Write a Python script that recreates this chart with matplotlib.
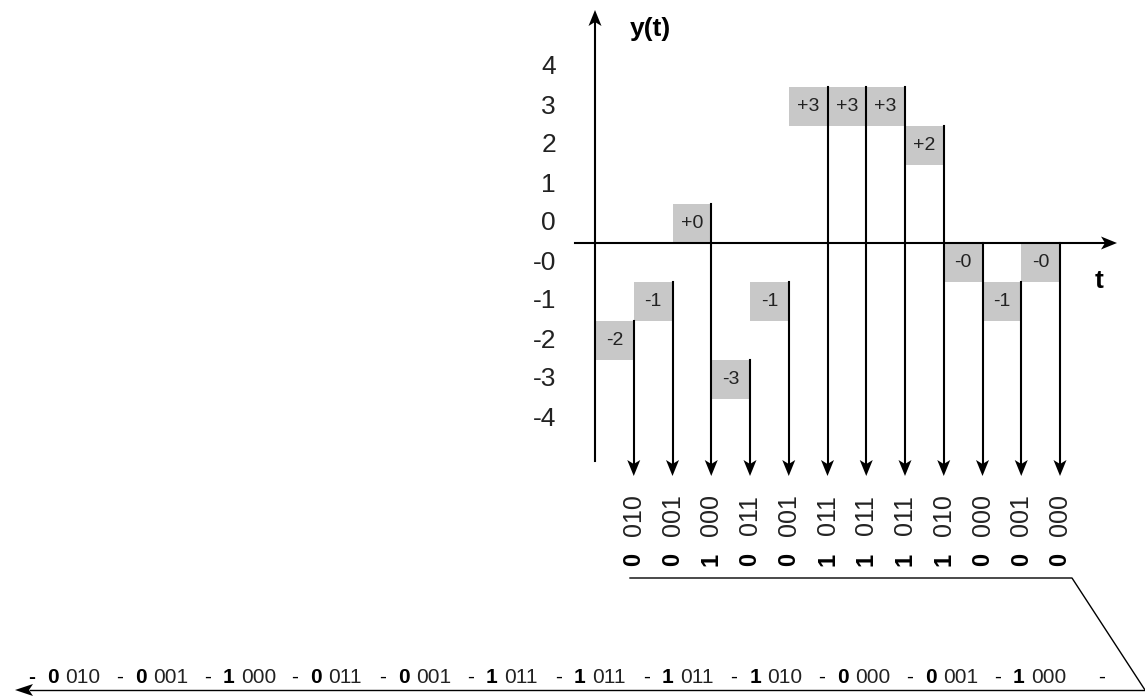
import matplotlib.pyplot as plt
from matplotlib.patches import Rectangle

plt.rcParams['font.family'] = ['Liberation Sans', 'DejaVu Sans']

# quantised samples: sign and magnitude of each level
signs = ['-', '-', '+', '-', '-', '+', '+', '+', '+', '-', '-', '-']
mags = [2, 1, 0, 3, 1, 3, 3, 3, 2, 0, 1, 0]

# code words under the arrows: sign bit + 3 magnitude bits
sign_bits = ['0', '0', '1', '0', '0', '1', '1', '1', '1', '0', '0', '0']
mag_bits = ['010', '001', '000', '011', '001', '011', '011', '011', '010',
            '000', '001', '000']

# serial stream as printed along the bottom arrow
stream_sign = ['0', '0', '1', '0', '0', '1', '1', '1', '1', '0', '0', '1']
stream_mag = ['010', '001', '000', '011', '001', '011', '011', '011', '010',
              '000', '001', '000']

ytick_labels = ['4', '3', '2', '1', '0', '-0', '-1', '-2', '-3', '-4']

# pixel geometry of the picture (origin of the y(t) axes, size of one step)
W, H = 1145, 697
X0, Y0 = 595, 243
PX_X, PX_Y = 38.75, 39.0
BOX_COLOR = '#c8c8c8'


def to_data(px, py):
    return (px - X0) / PX_X, (Y0 - py) / PX_Y


def to_px(x, y):
    return X0 + x * PX_X, Y0 - y * PX_Y


def head(ax, x, y, dx, dy, length=16, half=6.5, notch=4):
    # arrow head with its tip at data (x, y); (dx, dy) direction in pixels
    tx, ty = to_px(x, y)
    nx, ny = -dy, dx
    pts = [(tx, ty),
           (tx - dx * length + nx * half, ty - dy * length + ny * half),
           (tx - dx * (length - notch), ty - dy * (length - notch)),
           (tx - dx * length - nx * half, ty - dy * length - ny * half)]
    xs, ys = zip(*[to_data(*p) for p in pts])
    ax.fill(xs, ys, color='black', lw=0, zorder=4)


fig = plt.figure(figsize=(W / 100, H / 100), dpi=100)
ax = fig.add_axes([0, 0, 1, 1])
x_left, y_bottom = to_data(0, H)
x_right, y_top = to_data(W, 0)
ax.set_xlim(x_left, x_right)
ax.set_ylim(y_bottom, y_top)
ax.axis('off')

# axes of y(t)
ax.plot(*zip(to_data(595, 461), to_data(595, 22)), color='black', lw=1.5)
head(ax, *to_data(595, 10), 0, -1)
ax.plot(*zip(to_data(575, 243), to_data(1105, 243)), color='black', lw=1.5)
head(ax, *to_data(1117, 243), 1, 0)
ax.text(*to_data(650, 29), 'y(t)', fontsize=19, fontweight='bold',
        ha='center', va='center')
ax.text(*to_data(1099, 281), 't', fontsize=19, fontweight='bold',
        ha='center', va='center')

# level labels
for lab in ytick_labels:
    v = int(lab)
    ypos = v + 0.5 if not lab.startswith('-') else -(abs(v) + 0.5)
    ax.text(to_data(556, 0)[0], ypos, lab, fontsize=19, color='#222222',
            ha='right', va='center')

# samples: grey box with the level, and a line down to the code word
arrow_tip_y = to_data(0, 476)[1]
line_end_y = to_data(0, 466)[1]
for i, (s, m) in enumerate(zip(signs, mags), start=1):
    if s == '+':
        lo, top = m, m + 1
    else:
        lo, top = -(m + 1), -m
    ax.add_patch(Rectangle((i - 1, lo), 1, 1, facecolor=BOX_COLOR,
                           edgecolor='none', zorder=1))
    ax.text(i - 0.5, lo + 0.5, s + str(m), fontsize=14, color='#222222',
            ha='center', va='center', zorder=3)
    ax.plot([i, i], [top, line_end_y], color='black', lw=1.5, zorder=2)
    head(ax, i, arrow_tip_y, 0, 1)

# code words, written bottom-to-top
for i, (sb, mb) in enumerate(zip(sign_bits, mag_bits), start=1):
    ax.text(i, to_data(0, 559)[1], sb, rotation=90, fontsize=17,
            fontweight='bold', ha='center', va='center')
    ax.text(i, to_data(0, 515)[1], mb, rotation=90, fontsize=18,
            color='#222222', ha='center', va='center')

# bracket from the code words to the serial stream
ax.plot(*zip(to_data(630, 578), to_data(1072, 578), to_data(1145, 690)),
        color='black', lw=1.0)
ax.plot(*zip(to_data(30, 690), to_data(1145, 690)), color='black', lw=1.0)
head(ax, *to_data(15, 690), -1, 0, length=18, half=6)

# serial stream text
base_y = to_data(0, 683)[1]
pitch = (1013 - 47) / 11
for k, (sb, mb) in enumerate(zip(stream_sign, stream_mag)):
    bold_x = 47 + k * pitch
    ax.text(to_data(bold_x - 19, 0)[0], base_y, '-', fontsize=15,
            fontweight='bold' if k == 0 else 'normal', va='baseline')
    ax.text(to_data(bold_x, 0)[0], base_y, sb, fontsize=15,
            fontweight='bold', va='baseline')
    ax.text(to_data(bold_x + 18, 0)[0], base_y, mb, fontsize=15,
            color='#222222', va='baseline')
ax.text(to_data(1098, 0)[0], base_y, '-', fontsize=15, va='baseline')

fig.savefig('out.png', dpi=100)
